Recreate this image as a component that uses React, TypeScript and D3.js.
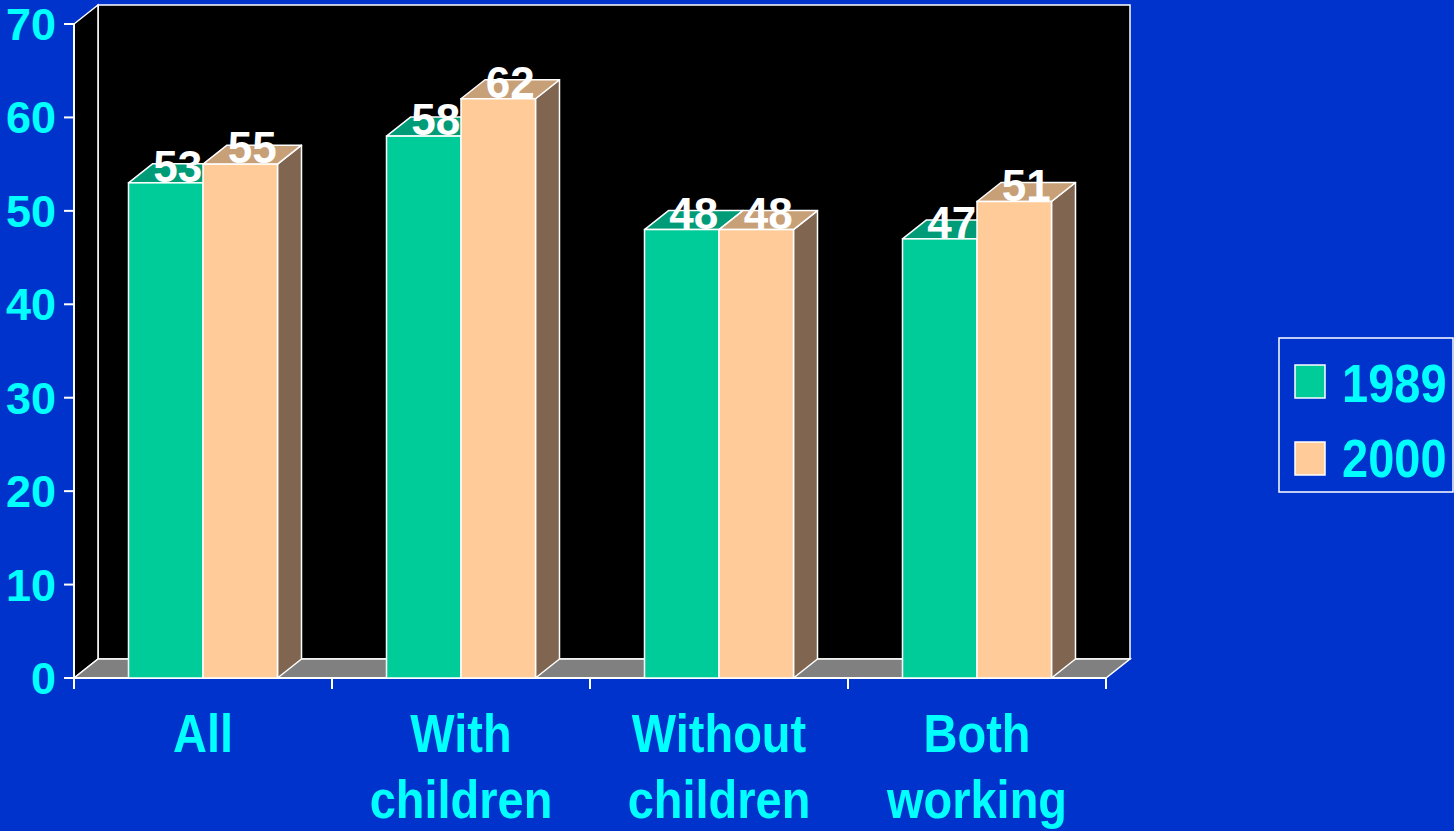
import React from "react";
import * as d3 from "d3";

const categories = [["All"], ["With", "children"], ["Without", "children"], ["Both", "working"]];
const series = ["1989", "2000"];
const values1989 = [53, 58, 48, 47];
const values2000 = [55, 62, 48, 51];
const yTicks = [0, 10, 20, 30, 40, 50, 60, 70];

const W = 1454, H = 831;
const BG = "#0033CC";
const CYAN = "#00FFFF";
const FRONT = ["#00CC99", "#FFCC99"];
const TOP = ["#009C78", "#C8A078"];
const SIDE = ["#007A5C", "#806650"];
const FONT = "'Liberation Sans', Arial, Helvetica, sans-serif";

export default function App() {
  const x0 = 74, x1 = 1106, yBase = 678, yTop = 24;
  const dx = 24, dy = -19;
  const y = d3.scaleLinear().domain([0, 70]).range([yBase, yTop]);
  const xb = d3.scaleBand<number>().domain(d3.range(categories.length)).range([x0, x1]);
  const groupW = 149;
  const xs = d3.scaleBand<number>().domain([0, 1]).range([0, groupW]);
  const data = [values1989, values2000];

  const bars: React.ReactNode[] = [];
  const labels: React.ReactNode[] = [];
  categories.forEach((_, i) => {
    const gx = (xb(i) as number) + xb.bandwidth() / 2 - groupW / 2;
    data.forEach((vals, s) => {
      const bx0 = gx + (xs(s) as number);
      const bx1 = bx0 + xs.bandwidth();
      const ty = y(vals[i]);
      const topPts = [[bx0, ty], [bx1, ty], [bx1 + dx, ty + dy], [bx0 + dx, ty + dy]];
      const sidePts = [[bx1, ty], [bx1 + dx, ty + dy], [bx1 + dx, yBase + dy], [bx1, yBase]];
      bars.push(
        <g key={`b${i}-${s}`}>
          <polygon points={sidePts.map(p => p.join(",")).join(" ")} fill={SIDE[s]} stroke="#fff" strokeWidth={1.5} strokeLinejoin="round" />
          <polygon points={topPts.map(p => p.join(",")).join(" ")} fill={TOP[s]} stroke="#fff" strokeWidth={1.5} strokeLinejoin="round" />
          <rect x={bx0} y={ty} width={bx1 - bx0} height={yBase - ty} fill={FRONT[s]} stroke="#fff" strokeWidth={1.5} />
        </g>
      );
      labels.push(
        <text key={`l${i}-${s}`} x={(bx0 + bx1) / 2 + dx / 2} y={ty - 1} textAnchor="middle"
          fontFamily={FONT} fontWeight="bold" fontSize={44} fill="#fff">{vals[i]}</text>
      );
    });
  });

  return (
    <svg width={W} height={H} style={{ position: "absolute", left: 0, top: 0, background: BG }}>
      <rect x={0} y={0} width={W} height={H} fill={BG} />
      {/* back wall */}
      <rect x={x0 + dx} y={yTop + dy} width={x1 - x0} height={yBase - yTop} fill="#000" stroke="#fff" strokeWidth={1.5} />
      {/* left side wall */}
      <polygon points={`${x0},${yTop} ${x0 + dx},${yTop + dy} ${x0 + dx},${yBase + dy} ${x0},${yBase}`} fill="#000" stroke="#fff" strokeWidth={1.5} />
      {/* floor */}
      <polygon points={`${x0},${yBase} ${x0 + dx},${yBase + dy} ${x1 + dx},${yBase + dy} ${x1},${yBase}`} fill="#808080" stroke="#fff" strokeWidth={1.5} />
      {/* y axis */}
      <line x1={x0} x2={x0} y1={yTop} y2={yBase} stroke="#fff" strokeWidth={2} />
      {yTicks.map(t => (
        <g key={t}>
          <line x1={x0 - 10} x2={x0} y1={y(t)} y2={y(t)} stroke="#fff" strokeWidth={2} />
          <text x={56} y={y(t) + 16} textAnchor="end" fontFamily={FONT} fontWeight="bold" fontSize={45} fill={CYAN}>{t}</text>
        </g>
      ))}
      {/* x axis */}
      <line x1={x0} x2={x1} y1={yBase} y2={yBase} stroke="#fff" strokeWidth={2} />
      {d3.range(categories.length + 1).map(i => {
        const tx = x0 + i * xb.step();
        return <line key={i} x1={tx} x2={tx} y1={yBase} y2={yBase + 11} stroke="#fff" strokeWidth={2} />;
      })}
      {bars}
      {labels}
      {categories.map((lines, i) => {
        const cx = (xb(i) as number) + xb.bandwidth() / 2;
        return lines.map((ln, j) => (
          <text key={`${i}-${j}`} transform={`translate(${cx},${752 + j * 66}) scale(1,1.15)`} textAnchor="middle"
            fontFamily={FONT} fontWeight="bold" fontSize={47} fill={CYAN}>{ln}</text>
        ));
      })}
      {/* legend */}
      <rect x={1279} y={338} width={174} height={154} fill="none" stroke="#fff" strokeWidth={1.5} />
      {series.map((s, k) => (
        <g key={s}>
          <rect x={1295} y={365 + k * 77} width={30} height={33} fill={FRONT[k]} stroke="#fff" strokeWidth={1.5} />
          <text transform={`translate(1342,${402 + k * 75}) scale(1,1.15)`} fontFamily={FONT} fontWeight="bold" fontSize={47} fill={CYAN}>{s}</text>
        </g>
      ))}
    </svg>
  );
}
